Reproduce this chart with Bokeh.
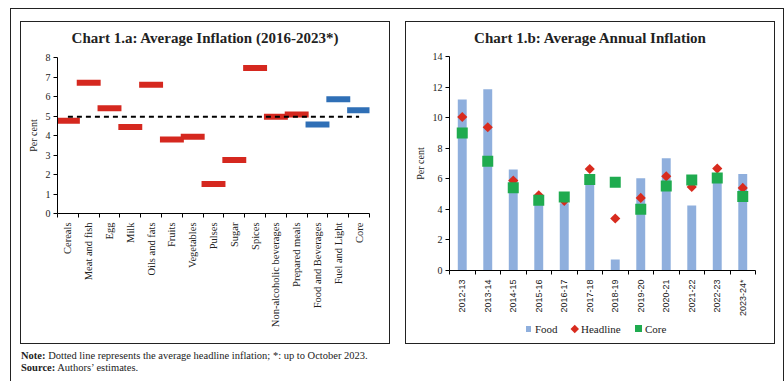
import numpy as np
from bokeh.plotting import figure
from bokeh.models import Range1d, FixedTicker, ColumnDataSource, Div
from bokeh.embed import file_html
from bokeh.resources import INLINE

# ---------------- data: Chart 1.a ----------------
title_a = "Chart 1.a: Average Inflation (2016-2023*)"
items_a = ["Cereals", "Meat and fish", "Egg", "Milk", "Oils and fats", "Fruits",
           "Vegetables", "Pulses", "Sugar", "Spices", "Non-alcoholic beverages",
           "Prepared meals", "Food and Beverages", "Fuel and Light", "Core"]
avg_infl_a = [4.76, 6.70, 5.40, 4.43, 6.60, 3.80, 3.93, 1.51, 2.75, 7.46, 4.96,
              5.08, 4.57, 5.86, 5.30]
group_a = ["item"] * 12 + ["aggregate"] * 3
headline_avg = 4.96

# ---------------- data: Chart 1.b ----------------
title_b = "Chart 1.b: Average Annual Inflation"
years_b = ["2012-13", "2013-14", "2014-15", "2015-16", "2016-17", "2017-18",
           "2018-19", "2019-20", "2020-21", "2021-22", "2022-23", "2023-24*"]
food_b = [11.18, 11.85, 6.60, 4.90, 4.40, 5.80, 0.72, 6.03, 7.34, 4.25, 5.90, 6.31]
headline_b = [10.04, 9.37, 5.88, 4.92, 4.55, 6.64, 3.40, 4.75, 6.16, 5.47, 6.67, 5.40]
core_b = [9.00, 7.14, 5.42, 4.60, 4.81, 5.95, 5.77, 4.00, 5.53, 5.92, 6.05, 4.84]
series_b = ["Food", "Headline", "Core"]

note_text = "Dotted line represents the average headline inflation; *: up to October 2023."
source_text = "Authors\u2019 estimates."

RED_A = "#d5281f"
BLUE_A = "#2f6fb6"
FOOD = "#8fafdd"
RED_B = "#d82b1e"
GREEN = "#1fab4f"
SERIF = "Liberation Serif"
SANS = "Liberation Sans"
INK = "#222222"


def style_axes(p, n, xfont, xsize):
    idx = list(range(n))
    p.xaxis.ticker = FixedTicker(ticks=idx, minor_ticks=[i - 0.5 for i in range(n + 1)])
    p.xaxis.major_tick_out = 0
    p.xaxis.major_tick_in = 0
    p.xaxis.minor_tick_out = 4
    p.xaxis.minor_tick_in = 0
    p.xaxis.minor_tick_line_color = "black"
    p.xaxis.major_label_orientation = np.pi / 2
    p.xaxis.major_label_text_font = xfont
    p.xaxis.major_label_text_font_size = xsize
    p.xaxis.major_label_text_color = INK
    p.xaxis.major_label_standoff = 5
    p.xaxis.axis_line_color = "black"
    p.yaxis.major_tick_out = 4
    p.yaxis.major_tick_in = 0
    p.yaxis.minor_tick_line_color = None
    p.yaxis.major_tick_line_color = "black"
    p.yaxis.axis_line_color = "black"
    p.yaxis.major_label_text_font = SERIF
    p.yaxis.major_label_text_font_size = "10px"
    p.yaxis.major_label_text_color = INK
    p.yaxis.major_label_standoff = 3
    p.yaxis.axis_label = "Per cent"
    p.yaxis.axis_label_text_font = SERIF
    p.yaxis.axis_label_text_font_style = "normal"
    p.yaxis.axis_label_text_font_size = "10px"
    p.yaxis.axis_label_text_color = INK
    p.yaxis.axis_label_standoff = 4
    p.xgrid.grid_line_color = None
    p.ygrid.grid_line_color = None
    p.outline_line_color = None
    p.background_fill_color = None
    p.border_fill_color = None


# ---------------- frame, titles, legend of 1.b and notes (HTML) ----------------
box = "position:absolute;border:1px solid #222;box-sizing:content-box;"
ttl = ("position:absolute;width:370px;text-align:center;font-family:'Liberation Serif';"
       "font-weight:bold;font-size:15px;line-height:16px;color:#222;white-space:nowrap;")
lab = ("position:absolute;top:317px;font-family:'Liberation Serif';font-size:11px;"
       "line-height:14px;color:#222;white-space:nowrap;")
html = (
    f'<div style="{box}left:5px;top:3px;width:772px;height:372px;"></div>'
    f'<div style="{box}left:15px;top:16px;width:368px;height:321px;"></div>'
    f'<div style="{box}left:400px;top:16px;width:368px;height:321px;"></div>'
    f'<div style="{ttl}left:15px;top:25px;">{title_a}</div>'
    f'<div style="{ttl}left:400px;top:25px;">{title_b}</div>'
    # legend of Chart 1.b
    f'<div style="position:absolute;left:521px;top:321px;width:5px;height:6px;background:{FOOD};"></div>'
    f'<div style="{lab}left:530px;">{series_b[0]}</div>'
    f'<div style="position:absolute;left:567px;top:321px;width:5.5px;height:5.5px;'
    f'background:{RED_B};transform:rotate(45deg);"></div>'
    f'<div style="{lab}left:576px;">{series_b[1]}</div>'
    f'<div style="position:absolute;left:630px;top:320px;width:7px;height:7px;background:{GREEN};"></div>'
    f'<div style="{lab}left:640px;">{series_b[2]}</div>'
    # note and source
    '<div style="position:absolute;left:16px;top:345px;font-family:\'Liberation Serif\';'
    'font-size:10.5px;line-height:12px;color:#222;white-space:nowrap;">'
    f'<b>Note:</b> {note_text}<br><b>Source:</b> {source_text}</div>'
)
frame_div = Div(text=html, width=780, height=378,
                styles={"position": "absolute", "left": "0px", "top": "0px"})

# ---------------- Chart 1.a ----------------
n_a = len(items_a)
p1 = figure(width=367, height=320, x_range=Range1d(-0.5, n_a - 0.5),
            y_range=Range1d(0, 8), output_backend="svg", toolbar_location=None,
            min_border_left=41, min_border_right=14, min_border_top=40,
            min_border_bottom=124,
            styles={"position": "absolute", "left": "16px", "top": "17px"})
style_axes(p1, n_a, SERIF, "10.5px")
p1.xaxis.major_label_overrides = {i: s for i, s in enumerate(items_a)}
p1.yaxis.ticker = FixedTicker(ticks=list(range(0, 9)))

src_a = ColumnDataSource(dict(x=list(range(n_a)), y=avg_infl_a,
                              c=[RED_A if g == "item" else BLUE_A for g in group_a]))
p1.rect(x="x", y="y", width=1.15, height=6, height_units="screen", source=src_a,
        fill_color="c", line_color=None)
p1.line(x=[0, n_a - 1], y=[headline_avg, headline_avg], line_color="black",
        line_width=2, line_dash="5 4")

# ---------------- Chart 1.b ----------------
n_b = len(years_b)
p2 = figure(width=367, height=320, x_range=Range1d(-0.5, n_b - 0.5),
            y_range=Range1d(0, 14), output_backend="svg", toolbar_location=None,
            min_border_left=48, min_border_right=13, min_border_top=39,
            min_border_bottom=67,
            styles={"position": "absolute", "left": "401px", "top": "17px"})
style_axes(p2, n_b, SANS, "9px")
p2.xaxis.major_label_overrides = {i: s for i, s in enumerate(years_b)}
p2.yaxis.ticker = FixedTicker(ticks=list(range(0, 15, 2)))

src_b = ColumnDataSource(dict(x=list(range(n_b)), food=food_b,
                              headline=headline_b, core=core_b))
p2.vbar(x="x", top="food", width=0.35, source=src_b, fill_color=FOOD, line_color=None)
p2.scatter(x="x", y="headline", source=src_b, marker="square", angle=np.pi / 4,
           size=7.2, fill_color=RED_B, line_color=None)
p2.scatter(x="x", y="core", source=src_b, marker="square", size=11,
           fill_color=GREEN, line_color=None)

open("out.html", "w").write(file_html([frame_div, p1, p2], INLINE))
